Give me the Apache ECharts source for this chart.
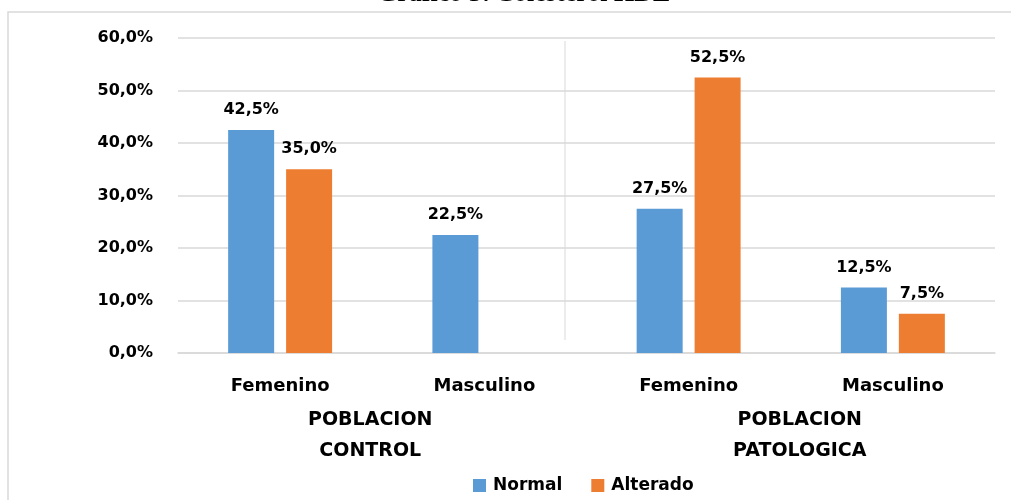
<!DOCTYPE html>
<html>
<head>
<meta charset="utf-8">
<script src="https://cdn.jsdelivr.net/npm/echarts@6/dist/echarts.min.js"></script>
<style>
  html, body { margin: 0; padding: 0; background: #fff; }
  #chart { width: 1011px; height: 500px; }
</style>
</head>
<body>
<div id="chart"></div>
<script>
// datos
var categorias = ["Femenino", "Masculino", "Femenino", "Masculino"];
var grupos = ["POBLACION\nCONTROL", "POBLACION\nPATOLOGICA"];
var normal = [42.5, 22.5, 27.5, 12.5];
var alterado = [35.0, 0, 52.5, 7.5];
var ticksY = [0, 10, 20, 30, 40, 50, 60];

var fuente = "DejaVu Sans";
var pct = function (v) {
  return v.toFixed(1).replace(".", ",") + "%";
};

var myChart = echarts.init(document.getElementById("chart"));
myChart.setOption({
  animation: false,
  color: ["#5B9BD5", "#ED7D31"],
  title: {
    left: 372,
    top: -24,
    text: "{b|Gráfico 5:} {r|Colesterol HDL}",
    textStyle: {
      rich: {
        b: { fontFamily: "Liberation Serif", fontWeight: "bold", fontSize: 26, color: "#000" },
        r: { fontFamily: "Liberation Serif", fontSize: 26, color: "#000" }
      }
    }
  },
  graphic: [
    {
      type: "rect",
      shape: { x: 8, y: 12, width: 1100, height: 600 },
      style: { fill: "none", stroke: "#d9d9d9", lineWidth: 1.5 },
      silent: true
    },
    {
      type: "line",
      shape: { x1: 565, y1: 41, x2: 565, y2: 340 },
      style: { stroke: "#d9d9d9", lineWidth: 1 },
      silent: true
    }
  ],
  legend: {
    left: 468,
    top: 472,
    itemWidth: 13,
    itemHeight: 13,
    itemGap: 29,
    icon: "rect",
    data: ["Normal", "Alterado"],
    textStyle: { fontFamily: fuente, fontWeight: "bold", fontSize: 17, color: "#000", padding: [0, 0, 0, 2] }
  },
  grid: { left: 178, right: 16, top: 38, bottom: 147 },
  xAxis: [
    {
      type: "category",
      data: categorias,
      axisTick: { show: false },
      axisLine: { lineStyle: { color: "#d9d9d9", width: 1.5 } },
      axisLabel: {
        margin: 24,
        fontFamily: fuente,
        fontWeight: "bold",
        fontSize: 18,
        color: "#000"
      }
    },
    {
      type: "category",
      position: "bottom",
      data: grupos.map(function (g, i) {
        return { value: g, textStyle: { padding: i === 0 ? [0, 24, 0, 0] : [0, 0, 0, 18] } };
      }),
      axisTick: { show: false },
      axisLine: { show: false },
      axisLabel: {
        margin: 52,
        fontFamily: fuente,
        fontWeight: "bold",
        fontSize: 19,
        lineHeight: 31,
        color: "#000"
      }
    }
  ],
  yAxis: {
    type: "value",
    min: ticksY[0],
    max: ticksY[ticksY.length - 1],
    interval: 10,
    axisLine: { show: false },
    axisTick: { show: false },
    splitLine: { lineStyle: { color: "#d9d9d9", width: 1.5 } },
    axisLabel: {
      margin: 25,
      fontFamily: fuente,
      fontWeight: "bold",
      fontSize: 16,
      color: "#000",
      formatter: function (v) { return pct(v); }
    }
  },
  series: [
    {
      name: "Normal",
      type: "bar",
      xAxisIndex: 0,
      barWidth: 46,
      barGap: "26%",
      data: normal,
      label: {
        show: true,
        position: "top",
        distance: 12,
        fontFamily: fuente,
        fontWeight: "bold",
        fontSize: 16,
        color: "#000",
        formatter: function (p) { return p.value ? pct(p.value) : ""; }
      }
    },
    {
      name: "Alterado",
      type: "bar",
      xAxisIndex: 0,
      barWidth: 46,
      barGap: "26%",
      data: alterado,
      label: {
        show: true,
        position: "top",
        distance: 12,
        fontFamily: fuente,
        fontWeight: "bold",
        fontSize: 16,
        color: "#000",
        formatter: function (p) { return p.value ? pct(p.value) : ""; }
      }
    }
  ]
});
</script>
</body>
</html>
